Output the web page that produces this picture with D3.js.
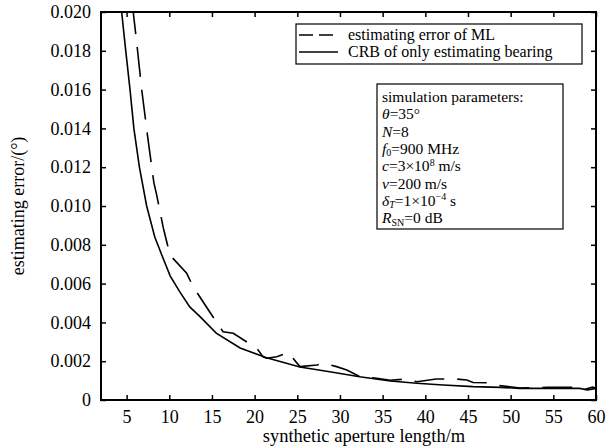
<!DOCTYPE html>
<html lang="en">
<head>
    <meta charset="UTF-8">
    <title>estimating error vs synthetic aperture length</title>
    <script src="https://cdn.jsdelivr.net/npm/d3@7"></script>
    <style>
        body { margin: 0; background: #fff; }
        text { font-family: "Liberation Serif", "Times New Roman", serif; fill: #000; }
    </style>
</head>
<body>
<svg width="609" height="448" xmlns="http://www.w3.org/2000/svg" id="chart"></svg>
<script>
    // 数据
    const xTicks = [5, 10, 15, 20, 25, 30, 35, 40, 45, 50, 55, 60];
    const yTicks = [0, 0.002, 0.004, 0.006, 0.008, 0.010, 0.012, 0.014, 0.016, 0.018, 0.020];

    // CRB of only estimating bearing (实线)
    const crbLength = [4.3, 4.42, 4.9, 5.4, 5.85, 6.5, 7.35, 8.3, 9.1, 10.1, 11.2, 12.4, 13.6, 15.5,
        18.3, 21.4, 25.3, 28.8, 32.3, 35.9, 39, 42.1, 45.6, 48.8, 51.1, 54.3, 58.1, 59, 60];
    const crbError = [0.0206, 0.0200, 0.0180, 0.0160, 0.0140, 0.0120, 0.0100, 0.0084, 0.0075, 0.0064, 0.0056, 0.0048, 0.0043, 0.00345,
        0.00268, 0.00218, 0.0017, 0.00146, 0.0012, 0.00098, 0.00086, 0.00077, 0.00069, 0.00065, 0.0006, 0.0006, 0.0006, 0.00052, 0.0006];

    // estimating error of ML (虚线)
    const mlLength = [5.7, 5.79, 6.19, 6.77, 7.47, 8.2, 8.52, 9.3, 9.7, 10.08, 12.04, 12.8, 15.36, 16.3, 17.5,
        20.25, 21.0, 21.4, 22.6, 23.95, 25.3, 27.3, 28.05, 29.6, 30.8, 32.35, 34.3, 35.9, 37.8, 39, 41.3,
        41.9, 43.2, 44.85, 45.6, 47.2, 48.8, 51.1, 54.3, 58.1, 58.5, 59.6, 60];
    const mlError = [0.0204, 0.01995, 0.0184, 0.0160, 0.01356, 0.01119, 0.01057, 0.00887, 0.00816, 0.00747, 0.00653, 0.00584, 0.00412, 0.00352, 0.00344,
        0.00266, 0.00222, 0.00215, 0.00223, 0.00244, 0.00172, 0.0018, 0.0019, 0.00172, 0.00155, 0.0012, 0.00112, 0.00102, 0.00108, 0.00094, 0.00108,
        0.00108, 0.0011, 0.00103, 0.0009, 0.00089, 0.00074, 0.00062, 0.00065, 0.00065, 0.00052, 0.00067, 0.00062];

    const legendLabels = ["estimating error of ML", "CRB of only estimating bearing"];

    const svg = d3.select("#chart");
    const [pL, pR, pT, pB] = [101, 596, 12, 400];

    const x = d3.scaleLinear().domain([2, 60]).range([pL, pR]);
    const y = d3.scaleLinear().domain([0, 0.020]).range([pB, pT]);

    svg.append("clipPath").attr("id", "plot-clip")
        .append("rect")
        .attr("x", pL).attr("y", pT)
        .attr("width", pR - pL).attr("height", pB - pT);

    // 坐标轴，刻度朝内
    const fmtY = d => d === 0 ? "0" : d3.format(".3f")(d);
    const styleAxis = g => {
        g.select(".domain").remove();
        g.selectAll("line").attr("stroke", "#000").attr("stroke-width", 1.5);
        g.selectAll("text").style("font-size", "18px").style("font-family", "Liberation Serif");
    };

    svg.append("g")
        .attr("transform", `translate(0,${pB})`)
        .call(d3.axisBottom(x).tickValues(xTicks).tickSizeInner(-5).tickSizeOuter(0).tickPadding(10))
        .call(styleAxis);
    svg.append("g")
        .attr("transform", `translate(0,${pT})`)
        .call(d3.axisTop(x).tickValues(xTicks).tickSizeInner(-5).tickSizeOuter(0).tickFormat(""))
        .call(styleAxis);
    svg.append("g")
        .attr("transform", `translate(${pL},0)`)
        .call(d3.axisLeft(y).tickValues(yTicks).tickSizeInner(-5).tickSizeOuter(0).tickPadding(10).tickFormat(fmtY))
        .call(styleAxis);
    svg.append("g")
        .attr("transform", `translate(${pR},0)`)
        .call(d3.axisRight(y).tickValues(yTicks).tickSizeInner(-5).tickSizeOuter(0).tickFormat(""))
        .call(styleAxis);

    svg.append("rect")
        .attr("x", pL).attr("y", pT)
        .attr("width", pR - pL).attr("height", pB - pT)
        .attr("fill", "none").attr("stroke", "#000").attr("stroke-width", 2);

    // 曲线
    const line = d3.line().x(d => x(d[0])).y(d => y(d[1]));
    const crb = d3.zip(crbLength, crbError);
    const ml = d3.zip(mlLength, mlError);

    svg.append("path")
        .attr("d", line(crb))
        .attr("clip-path", "url(#plot-clip)")
        .attr("fill", "none").attr("stroke", "#000").attr("stroke-width", 1.6);
    svg.append("path")
        .attr("d", line(ml))
        .attr("clip-path", "url(#plot-clip)")
        .attr("fill", "none").attr("stroke", "#000").attr("stroke-width", 1.6)
        .attr("stroke-dasharray", "30,13");

    // 轴标题
    svg.append("text")
        .attr("x", 364).attr("y", 442)
        .attr("text-anchor", "middle")
        .style("font-size", "18.5px")
        .text("synthetic aperture length/m");
    svg.append("text")
        .attr("transform", `translate(24,${(pT + pB) / 2}) rotate(-90)`)
        .attr("text-anchor", "middle")
        .style("font-size", "18px")
        .text("estimating error/(°)");

    // 图例
    const legend = svg.append("g");
    legend.append("rect")
        .attr("x", 296).attr("y", 24).attr("width", 286).attr("height", 40)
        .attr("fill", "#fff").attr("stroke", "#000").attr("stroke-width", 1.2);
    legendLabels.forEach((label, i) => {
        const ly = 35 + i * 17;
        legend.append("line")
            .attr("x1", 299).attr("x2", 338).attr("y1", ly).attr("y2", ly)
            .attr("stroke", "#000").attr("stroke-width", 1.6)
            .attr("stroke-dasharray", i === 0 ? "14,6" : null);
        legend.append("text")
            .attr("x", 348).attr("y", ly + 5)
            .style("font-size", "16px")
            .text(label);
    });

    // 仿真参数框
    const params = svg.append("g");
    params.append("rect")
        .attr("x", 377).attr("y", 84).attr("width", 186).attr("height", 145)
        .attr("fill", "#fff").attr("stroke", "#000").attr("stroke-width", 1.2);
    const paramLines = [
        [["simulation parameters:", ""]],
        [["θ", "i"], ["=35°", ""]],
        [["N", "i"], ["=8", ""]],
        [["f", "i"], ["0", "sub"], ["=900 MHz", ""]],
        [["c", "i"], ["=3×10", ""], ["8", "sup"], [" m/s", ""]],
        [["v", "i"], ["=200 m/s", ""]],
        [["δ", "i"], ["T", "subi"], ["=1×10", ""], ["−4", "sup"], [" s", ""]],
        [["R", "i"], ["SN", "sub"], ["=0 dB", ""]]
    ];
    paramLines.forEach((parts, i) => {
        const t = params.append("text")
            .attr("x", 382).attr("y", 102 + i * 17.3)
            .style("font-size", "15.5px");
        let shift = 0;
        parts.forEach(([s, kind]) => {
            const span = t.append("tspan").text(s);
            let target = 0;
            if (kind === "i" || kind === "subi") span.style("font-style", "italic");
            if (kind === "sub" || kind === "subi") { target = 2.5; span.style("font-size", "10px"); }
            if (kind === "sup") { target = -5.5; span.style("font-size", "10px"); }
            if (target !== shift) span.attr("dy", target - shift);
            shift = target;
        });
    });
</script>
</body>
</html>
